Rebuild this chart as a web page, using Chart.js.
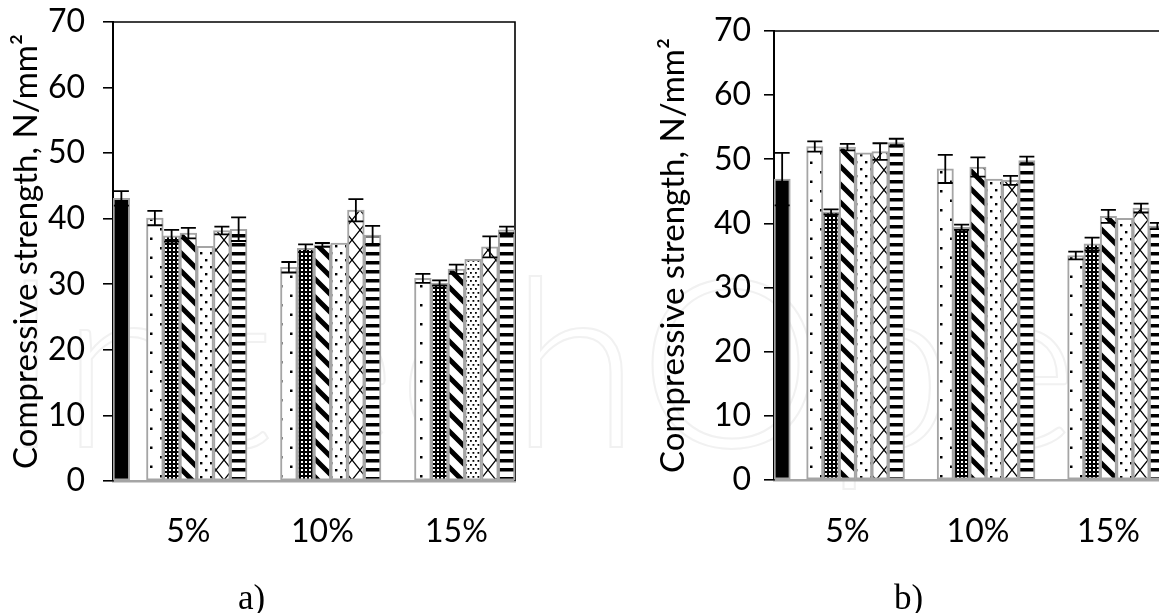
<!DOCTYPE html>
<html>
<head>
<meta charset="utf-8">
<script src="https://cdn.jsdelivr.net/npm/chart.js@4.4.1/dist/chart.umd.min.js"></script>
<style>
  html, body { margin: 0; padding: 0; background: #fff; }
  body { width: 1159px; height: 613px; overflow: hidden; position: relative; }
  canvas { position: absolute; top: 0; }
  #ca { left: 0; }
  #cb { left: 620px; }
  .tag { position: absolute; font-family: "Liberation Serif", serif; font-size: 35px; color: #000; line-height: 1; }
  #wm { position: absolute; left: 0; top: 215px; font-family: Lato, sans-serif; font-weight: 300;
        font-size: 235px; color: transparent; -webkit-text-stroke: 2px #f1f1f1; letter-spacing: 2px; white-space: nowrap; }
</style>
</head>
<body>
<div id="wm">IntechOpen</div>
<canvas id="ca" width="560" height="613"></canvas>
<canvas id="cb" width="560" height="613"></canvas>
<div class="tag" style="left:238px; top:580px;">a)</div>
<div class="tag" style="left:894px; top:580px;">b)</div>
<script>
// ---- data ----
const categories = ['5%', '10%', '15%'];
const yMin = 0, yMax = 70, yStep = 10;
const axisTitle = 'Compressive strength, N/mm²';

// panel a)
const controlA      = [43.1, null, null];
const controlErrA   = [1.1, 0, 0];
const dottedA       = [40.1, 32.6, 30.9];
const dottedErrA    = [1.1, 0.8, 0.7];
const gridA         = [37.4, 35.5, 30.2];
const gridErrA      = [0.9, 0.6, 0.4];
const diagonalA     = [37.8, 36.0, 32.3];
const diagonalErrA  = [0.8, 0.3, 0.7];
const stippledA     = [35.8, 36.3, 33.8];
const stippledErrA  = [0, 0, 0];
const latticeA      = [38.2, 41.3, 35.7];
const latticeErrA   = [0.6, 1.7, 1.6];
const stripedA      = [38.4, 37.5, 38.3];
const stripedErrA   = [1.8, 1.4, 0.5];

// panel b)
const controlB      = [46.9, null, null];
const controlErrB   = [4.1, 0, 0];
const dottedB       = [52.0, 48.5, 35.0];
const dottedErrB    = [0.8, 2.2, 0.6];
const gridB         = [41.8, 39.4, 36.8];
const gridErrB      = [0.4, 0.4, 1.0];
const diagonalB     = [51.9, 48.8, 41.1];
const diagonalErrB  = [0.5, 1.5, 1.0];
const stippledB     = [51.0, 46.9, 40.8];
const stippledErrB  = [0, 0, 0];
const latticeB      = [51.2, 46.7, 42.4];
const latticeErrB   = [1.3, 0.7, 0.7];
const stripedB      = [52.6, 49.8, 39.6];
const stripedErrB   = [0.6, 0.6, 0.5];

// ---- fills ----
function tile(w, h, paint) {
  const c = document.createElement('canvas');
  c.width = w; c.height = h;
  const g = c.getContext('2d');
  g.fillStyle = '#fff';
  g.fillRect(0, 0, w, h);
  g.fillStyle = '#000';
  g.strokeStyle = '#000';
  paint(g, w, h);
  return g.createPattern(c, 'repeat');
}
const fillDotted = tile(20, 19, g => { g.fillRect(0, 0, 2.5, 2.5); g.fillRect(10, 9.5, 2.5, 2.5); });
const fillGrid = tile(4, 4, g => { g.fillRect(0, 0, 4, 4); g.fillStyle = '#fff'; g.fillRect(1, 1, 2, 2); });
const fillDiagonal = tile(18, 18, g => {
  g.lineWidth = 5;
  g.beginPath();
  [-18, 0, 18].forEach(k => { g.moveTo(k - 3, -3); g.lineTo(k + 21, 21); });
  g.stroke();
});
const fillStippled = tile(10, 14, g => { g.fillRect(0, 0, 2.4, 2.4); g.fillRect(5, 7, 2.4, 2.4); });
const fillStippledFine = tile(5, 8, g => { g.fillRect(0, 0, 1.8, 1.8); g.fillRect(2.5, 4, 1.8, 1.8); });
const fillLattice = tile(16, 20, g => {
  g.lineWidth = 1.3;
  g.beginPath();
  g.moveTo(0, 0); g.lineTo(16, 20);
  g.moveTo(16, 0); g.lineTo(0, 20);
  g.stroke();
});
const fillStriped = tile(9, 9, g => { g.fillRect(0, 0, 9, 3.5); });

const EDGE = '#a5a5a5';
const TICK_FONT = { family: 'Lato, sans-serif', size: 32 };
const TITLE_FONT = { family: 'Lato, sans-serif', size: 33 };

function bars(values, errors, fill) {
  return {
    data: values, errors: errors,
    backgroundColor: fill, borderColor: EDGE, borderWidth: 2, borderSkipped: false,
    barPercentage: 1, categoryPercentage: 1
  };
}

// error bars: vertical whisker with caps at value ± error
const errorBars = {
  id: 'errorBars',
  afterDatasetsDraw(chart) {
    const { ctx } = chart;
    const ys = chart.scales.y;
    chart.data.datasets.forEach((ds, di) => {
      if (!ds.errors) return;
      chart.getDatasetMeta(di).data.forEach((bar, i) => {
        const v = ds.data[i], e = ds.errors[i];
        if (v == null || !e) return;
        const top = ys.getPixelForValue(v + e), bot = ys.getPixelForValue(v - e);
        const half = 7.5;
        ctx.save();
        ctx.strokeStyle = '#000';
        ctx.lineWidth = 1.8;
        ctx.beginPath();
        ctx.moveTo(bar.x, top); ctx.lineTo(bar.x, bot);
        ctx.moveTo(bar.x - half, top); ctx.lineTo(bar.x + half, top);
        ctx.moveTo(bar.x - half, bot); ctx.lineTo(bar.x + half, bot);
        ctx.stroke();
        ctx.restore();
      });
    });
  }
};

// plot frame: top and right edges, drawn beneath the bars
const plotFrame = {
  id: 'plotFrame',
  beforeDatasetsDraw(chart) {
    const { ctx, chartArea: a } = chart;
    ctx.save();
    ctx.strokeStyle = '#000';
    ctx.lineWidth = 1.6;
    ctx.beginPath();
    ctx.moveTo(a.left, a.top); ctx.lineTo(a.right, a.top); ctx.lineTo(a.right, a.bottom);
    ctx.stroke();
    ctx.restore();
  }
};

function makeChart(id, sets, geo) {
  new Chart(document.getElementById(id), {
    type: 'bar',
    data: { labels: categories, datasets: sets },
    options: {
      responsive: false, animation: false, devicePixelRatio: 1,
      layout: { padding: { top: geo.top, right: geo.right, left: 0, bottom: 0 } },
      plugins: { legend: { display: false }, tooltip: { enabled: false } },
      scales: {
        x: {
          offset: true,
          grid: { display: false, drawTicks: false },
          border: { display: true, color: EDGE, width: 2.5 },
          ticks: { font: TICK_FONT, color: '#000', padding: geo.labelPad, labelOffset: geo.labelOffset,
                   maxRotation: 0, autoSkip: false },
          afterFit(s) { s.height = geo.xHeight; s.paddingLeft = 0; s.paddingRight = 0; }
        },
        y: {
          min: yMin, max: yMax, z: 1,
          ticks: { stepSize: yStep, font: TICK_FONT, color: '#000', padding: geo.tickPad },
          grid: { drawOnChartArea: false, drawTicks: true, tickLength: 10, color: '#000', lineWidth: 1.6 },
          border: { display: true, color: '#000', width: 2 },
          title: { display: true, text: axisTitle, font: TITLE_FONT, color: '#000', padding: { top: geo.titlePad, bottom: 0 } },
          afterFit(s) { s.width = geo.yWidth; s.paddingTop = 0; s.paddingBottom = 0; }
        }
      }
    },
    plugins: [plotFrame, errorBars]
  });
}

makeChart('ca', [
  bars(controlA, controlErrA, '#000'),
  bars([null, null, null], null, '#fff'),
  bars(dottedA, dottedErrA, fillDotted),
  bars(gridA, gridErrA, fillGrid),
  bars(diagonalA, diagonalErrA, fillDiagonal),
  bars(stippledA, stippledErrA, [fillStippled, fillStippled, fillStippledFine]),
  bars(latticeA, latticeErrA, fillLattice),
  bars(stripedA, stripedErrA, fillStriped)
], { top: 22, right: 45, xHeight: 132, yWidth: 113, tickPad: 18, titlePad: 7, labelPad: 31, labelOffset: 8.4 });

makeChart('cb', [
  bars(controlB, controlErrB, '#000'),
  bars([null, null, null], null, '#fff'),
  bars(dottedB, dottedErrB, fillDotted),
  bars(gridB, gridErrB, fillGrid),
  bars(diagonalB, diagonalErrB, fillDiagonal),
  bars(stippledB, stippledErrB, fillStippled),
  bars(latticeB, latticeErrB, fillLattice),
  bars(stripedB, stripedErrB, fillStriped)
], { top: 31, right: 14.5, xHeight: 133, yWidth: 154, tickPad: 13, titlePad: 34, labelPad: 32, labelOffset: 8.2 });
</script>
</body>
</html>
